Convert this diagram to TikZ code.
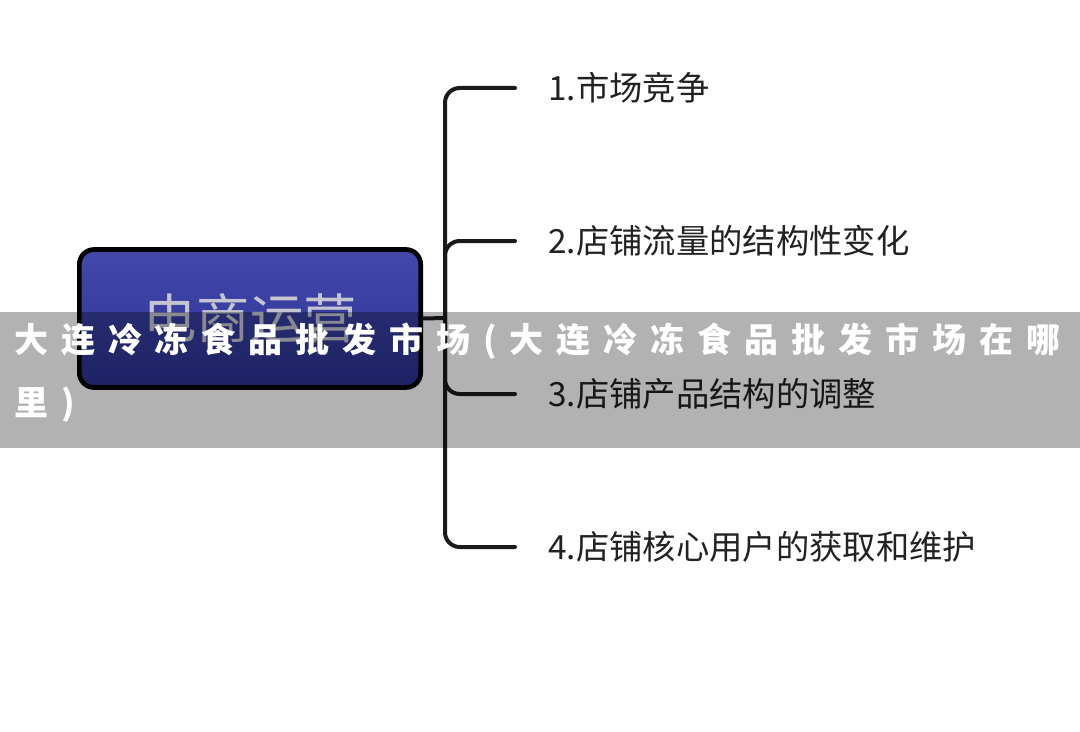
\documentclass[tikz,border=0pt]{standalone}
\usepackage{fontspec}
\setmainfont{Noto Sans CJK SC}
\newfontfamily\bandfont[LetterSpace=38]{Noto Sans CJK SC}
\usetikzlibrary{positioning}

\begin{document}
\begin{tikzpicture}[x=0.75pt,y=-0.75pt,
		branch/.style={line width=3pt,draw=linegray,line cap=round,rounded corners=11pt},
		item/.style={anchor=west,inner sep=0pt,text=textgray,font=\fontsize{25}{30}\selectfont}]
	\definecolor{boxtop}{HTML}{4249AB}
	\definecolor{boxbottom}{HTML}{2C3292}
	\definecolor{linegray}{HTML}{1A1A1A}
	\definecolor{textgray}{HTML}{222222}
	\definecolor{boxtext}{HTML}{C4C5D0}
	\useasboundingbox (0,0) rectangle (1080,731);
	\fill[white] (0,0) rectangle (1080,731);
	
	% main box
	\node[draw=black,line width=3.5pt,rounded corners=11pt,top color=boxtop,bottom color=boxbottom,
		minimum width=256pt,minimum height=103.5pt,text=boxtext,font=\fontsize{40}{48}\selectfont] (ops) at (250,318.5) {电商运营};
	\coordinate (hub) at (445,318);
	\draw[branch] (ops.east) -- (hub);
	
	% branches
	\foreach \y/\t [count=\i] in {88/1.市场竞争,241/2.店铺流量的结构性变化,394/3.店铺产品结构的调整,547/4.店铺核心用户的获取和维护}{
		\coordinate (end\i) at (515,\y);
		\draw[branch] (hub) |- (end\i);
		\node[item] (item\i) at (548,\y) {\t};
	}
	
	% band
	\fill[black,fill opacity=0.3] (0,312) rectangle (1080,448);
	\node[anchor=north west,inner sep=0pt,align=left,text=white,font=\bandfont\bfseries\fontsize{25.5}{47}\selectfont] (title) at (14,323) {大连冷冻食品批发市场(大连冷冻食品批发市场在哪\\里)};
\end{tikzpicture}
\end{document}
